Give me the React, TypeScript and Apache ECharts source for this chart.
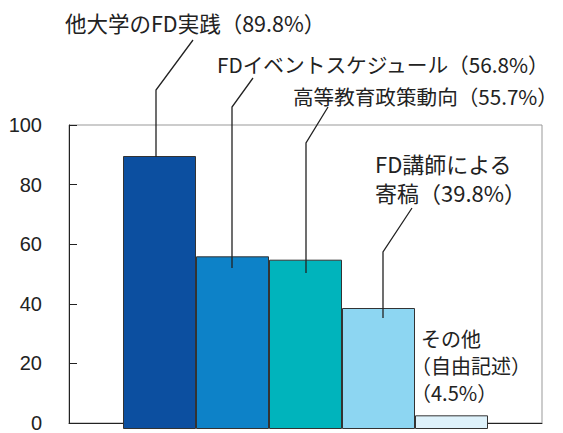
import React, { useEffect, useRef } from "react";
import * as echarts from "echarts";

const categories = ["他大学のFD実践", "FDイベントスケジュール", "高等教育政策動向", "FD講師による寄稿", "その他（自由記述）"];
const values = [89.8, 56.8, 55.7, 39.8, 4.5];
const yTicks = [0, 20, 40, 60, 80, 100];

const barColors = ["#0c4fa0", "#0d82c8", "#00b4bc", "#8dd6f2", "#def2fb"];

function labelLines(i: number): string[] {
  const c = categories[i];
  const v = `（${values[i]}%）`;
  if (i === 3) return [c.slice(0, 7), c.slice(7) + v];
  if (i === 4) return [c.slice(0, 3), c.slice(3), v];
  return [c + v];
}

// annotation layout: [left x, first line centre y, line spacing, font size]
const labelPos: [number, number, number, number][] = [
  [65, 22.5, 0, 21.5],
  [217, 64, 0, 20.7],
  [293, 96, 0, 20.6],
  [375, 163, 29, 22],
  [421, 338, 27, 20],
];
// per-line x nudges for lines opening with a full-width bracket
const lineShift: number[][] = [[0], [0], [0], [0, 0], [0, -10, -10]];
const leaders: number[][][] = [
  [[193, 40], [156, 90], [156, 157]],
  [[253, 78], [232, 107], [232, 268]],
  [[328, 107], [306, 143], [306, 273]],
  [[412, 208], [383, 252], [383, 318]],
];

const FONT = "'Noto Sans CJK JP', 'Noto Sans', sans-serif";

export default function App() {
  const ref = useRef<HTMLDivElement>(null);
  useEffect(() => {
    const chart = echarts.init(ref.current!, null, { renderer: "svg" });
    const texts: any[] = [];
    labelPos.forEach((p, i) => {
      labelLines(i).forEach((line, k) => {
        texts.push({
          type: "text", silent: true, z: 100, x: p[0] + lineShift[i][k], y: p[1] + k * p[2],
          style: {
            text: line, fontSize: p[3], fontFamily: FONT, fill: "#222",
            verticalAlign: "middle", align: "left",
          },
        });
      });
    });
    chart.setOption({
      animation: false,
      backgroundColor: "#ffffff",
      grid: [
        { left: 69, top: 125, width: 473, height: 304, show: true, borderColor: "#999", borderWidth: 1, backgroundColor: "transparent" },
        { left: 123, top: 125, width: 365, height: 304 },
      ],
      xAxis: [
        {
          type: "category", gridIndex: 0, data: [""],
          axisLine: { show: true, lineStyle: { color: "#222", width: 1 } },
          axisTick: { show: false }, axisLabel: { show: false },
        },
        { type: "category", gridIndex: 1, data: categories, show: false },
      ],
      yAxis: [
        {
          type: "value", gridIndex: 0, min: yTicks[0], max: yTicks[yTicks.length - 1], interval: 20,
          axisLine: { show: true, lineStyle: { color: "#222", width: 1 } },
          axisTick: { show: true, inside: true, length: 8, lineStyle: { color: "#222" } },
          splitLine: { show: false },
          axisLabel: {
            fontSize: 20, color: "#222", margin: 27, padding: [4, 0, 0, 0],
            fontFamily: "'Liberation Sans', Arial, sans-serif",
          },
        },
        { type: "value", gridIndex: 1, min: 0, max: 100, show: false },
      ],
      series: [
        {
          type: "bar", xAxisIndex: 1, yAxisIndex: 1,
          barCategoryGap: "0%",
          data: values.map((v, i) => ({ value: v, itemStyle: { color: barColors[i] } })),
          itemStyle: { borderColor: "#333", borderWidth: 1 },
        },
      ],
      graphic: [
        ...leaders.map((pts) => ({
          type: "polyline", silent: true, z: 100,
          shape: { points: pts },
          style: { stroke: "#222", lineWidth: 1.3, fill: null },
        })),
        ...texts,
      ],
    });
    return () => chart.dispose();
  }, []);
  return <div ref={ref} style={{ position: "fixed", left: 0, top: 0, width: 563, height: 433 }} />;
}
